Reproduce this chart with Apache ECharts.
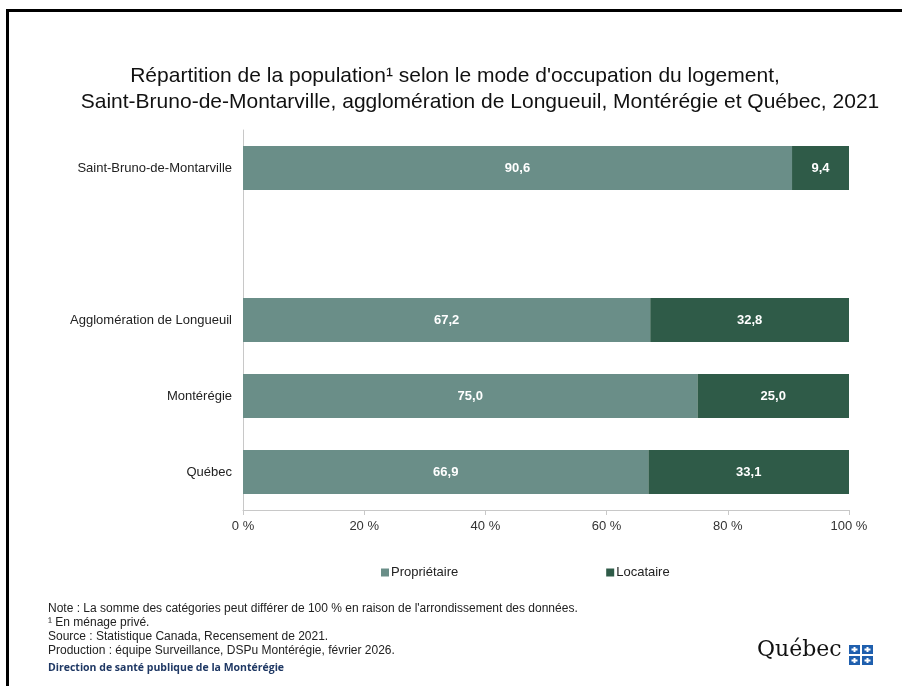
<!DOCTYPE html>
<html>
<head>
<meta charset="utf-8">
<script src="https://cdn.jsdelivr.net/npm/echarts@6/dist/echarts.min.js"></script>
<style>
  html, body { margin: 0; padding: 0; background: #fff; }
  #chart { width: 902px; height: 686px; }
</style>
</head>
<body>
<div id="chart"></div>
<script>
// categories from bottom to top ('' = empty row between the municipality and the regions)
var categories = ['Québec', 'Montérégie', 'Agglomération de Longueuil', '', 'Saint-Bruno-de-Montarville'];
var proprietaire = [66.9, 75.0, 67.2, '-', 90.6];
var locataire = [33.1, 25.0, 32.8, '-', 9.4];
var xTicks = [0, 20, 40, 60, 80, 100];

var notes = [
    "Note : La somme des catégories peut différer de 100 % en raison de l'arrondissement des données.",
    '¹ En ménage privé.',
    'Source : Statistique Canada, Recensement de 2021.',
    'Production : équipe Surveillance, DSPu Montérégie, février 2026.'
];

var chart = echarts.init(document.getElementById('chart'));

function fmt(v) {
    return v.toFixed(1).replace('.', ',');
}

var labelStyle = {
    show: true,
    position: 'inside',
    color: '#fff',
    fontWeight: 'bold',
    fontSize: 13,
    fontFamily: 'Liberation Sans',
    formatter: function (p) { return fmt(p.value); }
};

var titleStyle = {
    fontSize: 21,
    fontWeight: 'normal',
    color: '#111',
    fontFamily: 'Liberation Sans'
};

var graphics = [
    // frame around the slide
    { type: 'line', shape: { x1: 6, y1: 10.5, x2: 902, y2: 10.5 }, style: { stroke: '#000', lineWidth: 3 } },
    { type: 'line', shape: { x1: 7.5, y1: 9, x2: 7.5, y2: 686 }, style: { stroke: '#000', lineWidth: 3 } }
];
notes.forEach(function (t, i) {
    graphics.push({
        type: 'text', left: 48, top: 603 + i * 14,
        style: { text: t, fontSize: 12, fill: '#222', fontFamily: 'Liberation Sans' }
    });
});
graphics.push({
    type: 'text', left: 48, top: 663,
    style: { text: 'Direction de santé publique de la Montérégie', fontSize: 10.5, fontWeight: 'bold', fill: '#1f3864', fontFamily: 'Open Sans' }
});
// Québec wordmark
graphics.push({
    type: 'text', left: 757, top: 639,
    style: { text: 'Québec', fontSize: 22, fill: '#111', fontFamily: 'DejaVu Serif' }
});
[[849, 645], [862, 645], [849, 656], [862, 656]].forEach(function (p) {
    graphics.push({ type: 'rect', shape: { x: p[0], y: p[1], width: 11, height: 9 }, style: { fill: '#1f5fae' } });
    graphics.push({ type: 'rect', shape: { x: p[0] + 4.5, y: p[1] + 2, width: 2, height: 5 }, style: { fill: '#fff' } });
    graphics.push({ type: 'rect', shape: { x: p[0] + 2.5, y: p[1] + 3.5, width: 6, height: 2 }, style: { fill: '#fff' } });
});

var option = {
    backgroundColor: '#fff',
    animation: false,
    title: [
        {
            text: "Répartition de la population¹ selon le mode d'occupation du logement,",
            left: 450,
            top: 61,
            textAlign: 'center',
            textStyle: titleStyle
        },
        {
            text: 'Saint-Bruno-de-Montarville, agglomération de Longueuil, Montérégie et Québec, 2021',
            left: 475,
            top: 87,
            textAlign: 'center',
            textStyle: titleStyle
        }
    ],
    legend: {
        data: ['Propriétaire', 'Locataire'],
        left: 376,
        top: 561,
        itemWidth: 8,
        itemHeight: 8,
        itemGap: 148,
        icon: 'rect',
        textStyle: { fontSize: 13, color: '#222', fontFamily: 'Liberation Sans', padding: [0, 0, 0, -3] }
    },
    grid: {
        left: 243,
        right: 53,
        top: 130,
        bottom: 176,
        containLabel: false
    },
    xAxis: {
        type: 'value',
        min: 0,
        max: 100,
        interval: 20,
        axisLine: { show: true, lineStyle: { color: '#c8c8c8', width: 1 } },
        axisTick: { show: true, length: 5, lineStyle: { color: '#c8c8c8' } },
        splitLine: { show: false },
        axisLabel: {
            fontSize: 13,
            color: '#333',
            margin: 10,
            fontFamily: 'Liberation Sans',
            formatter: function (v) { return xTicks.indexOf(v) >= 0 ? v + ' %' : ''; }
        }
    },
    yAxis: {
        type: 'category',
        data: categories,
        axisLine: { show: true, lineStyle: { color: '#c8c8c8', width: 1 } },
        axisTick: { show: false },
        axisLabel: { fontSize: 13, color: '#222', margin: 11, fontFamily: 'Liberation Sans' }
    },
    series: [
        {
            name: 'Propriétaire',
            type: 'bar',
            stack: 'total',
            barWidth: 44,
            data: proprietaire,
            itemStyle: { color: '#6a8e88' },
            label: labelStyle
        },
        {
            name: 'Locataire',
            type: 'bar',
            stack: 'total',
            barWidth: 44,
            data: locataire,
            itemStyle: { color: '#2f5b48' },
            label: labelStyle
        }
    ],
    graphic: graphics
};

chart.setOption(option);
</script>
</body>
</html>
